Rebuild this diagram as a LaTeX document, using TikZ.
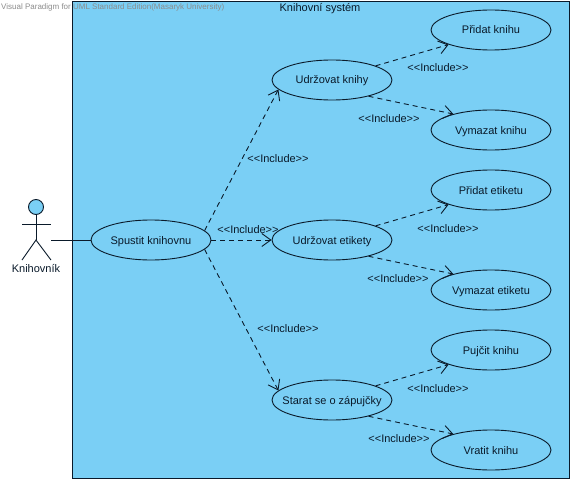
\documentclass[tikz,border=0pt]{standalone}
\usepackage{fontspec}
\setmainfont{Liberation Sans}
\usetikzlibrary{arrows.meta,shapes.geometric}
\definecolor{sysblue}{HTML}{7ACFF5}
\definecolor{inkline}{HTML}{0A1A2A}
\tikzset{
  usecase/.style={ellipse,draw=inkline,fill=sysblue,line width=0.9pt,minimum width=120pt,minimum height=40pt,inner sep=0pt,text height=8pt,text depth=0pt,font=\fontsize{11}{13}\selectfont,text=inkline},
  incl/.style={draw=inkline,line width=0.9pt,dash pattern=on 5pt off 4pt,-{Straight Barb[length=9pt,width=13pt,line width=0.9pt]}},
  incllabel/.style={inner sep=0pt,text height=8pt,text depth=0pt,font=\fontsize{11}{13}\selectfont,text=inkline},
  actorline/.style={draw=inkline,line width=0.9pt},
}
\begin{document}
\begin{tikzpicture}[x=1pt,y=-1pt]
\useasboundingbox (0,0) rectangle (575,484);
\fill[white] (0,0) rectangle (575,484);
\draw[fill=sysblue,draw=inkline,line width=0.9pt] (72,1) rectangle (569,478);
\node[inner sep=0pt,font=\fontsize{8}{10}\selectfont,text=black!45,anchor=west] (wm) at (1,7) {Visual Paradigm for UML Standard Edition(Masaryk University)};
\node[incllabel] (title) at (320,8) {Knihovní systém};

\node[usecase] (spustit) at (151,240) {Spustit knihovnu};
\node[usecase] (knihy) at (332,80) {Udržovat knihy};
\node[usecase] (etikety) at (332,240) {Udržovat etikety};
\node[usecase] (starat) at (332,400) {\makebox[0pt]{Starat se o zápujčky}};
\node[usecase] (pridatk) at (491,30) {Přidat knihu};
\node[usecase] (vymazatk) at (491,130) {Vymazat knihu};
\node[usecase] (pridate) at (491,190) {Přidat etiketu};
\node[usecase] (vymazate) at (491,290) {Vymazat etiketu};
\node[usecase] (pujcit) at (491,350) {Pujčit knihu};
\node[usecase] (vratit) at (491,450) {Vratit knihu};

\node[circle,draw=inkline,fill=sysblue,line width=0.9pt,minimum size=15pt,inner sep=0pt] (head) at (36,207) {};
\coordinate (armL) at (22,224);
\coordinate (armR) at (51,224);
\coordinate (neck) at (36,224);
\coordinate (hip) at (36,240);
\coordinate (legL) at (22,260);
\coordinate (legR) at (51,260);
\coordinate (hand) at (51,240);
\draw[actorline] (head) -- (hip);
\draw[actorline] (armL) -- (armR);
\draw[actorline] (legL) -- (hip) -- (legR);
\node[incllabel] (actorname) at (36,268) {Knihovník};
\draw[actorline] (hand) -- (spustit.west);

\draw[incl] (spustit.10) -- (knihy.190);
\draw[incl] (spustit.east) -- (etikety.west);
\draw[incl] (spustit.-10) -- (starat.170);
\draw[incl] (knihy.18) -- (pridatk.199);
\draw[incl] (knihy.-24) -- (vymazatk.157);
\draw[incl] (etikety.18) -- (pridate.199);
\draw[incl] (etikety.-24) -- (vymazate.157);
\draw[incl] (starat.18) -- (pujcit.199);
\draw[incl] (starat.-24) -- (vratit.157);

\node[incllabel] (l1) at (278,158) {<{}<Include>{}>};
\node[incllabel] (l2) at (248,229) {<{}<Include>{}>};
\node[incllabel] (l3) at (288,328) {<{}<Include>{}>};
\node[incllabel] (l4) at (438,68) {<{}<Include>{}>};
\node[incllabel] (l5) at (389,118) {<{}<Include>{}>};
\node[incllabel] (l6) at (448,228) {<{}<Include>{}>};
\node[incllabel] (l7) at (398,278) {<{}<Include>{}>};
\node[incllabel] (l8) at (438,388) {<{}<Include>{}>};
\node[incllabel] (l9) at (399,438) {<{}<Include>{}>};
\end{tikzpicture}
\end{document}
